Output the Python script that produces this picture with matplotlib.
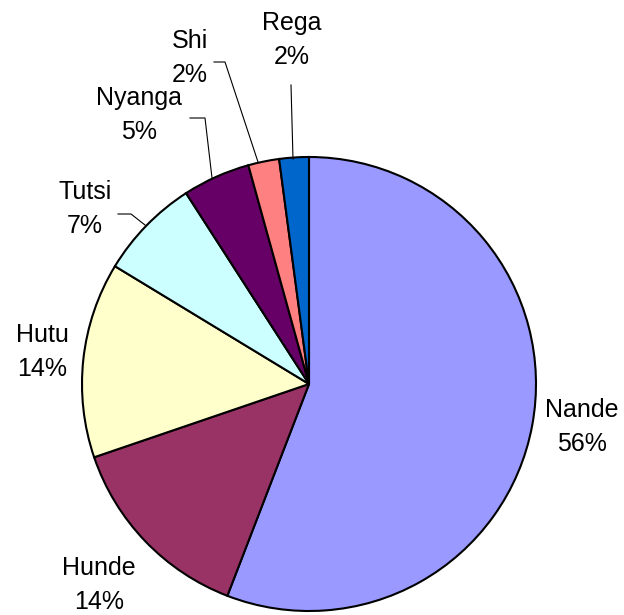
import matplotlib.pyplot as plt

plt.rcParams['font.family'] = ['Liberation Sans', 'DejaVu Sans']

# 数据
groups = ['Nande', 'Hunde', 'Hutu', 'Tutsi', 'Nyanga', 'Shi', 'Rega']
shares = [55.8, 13.9, 13.9, 7.2, 4.8, 2.2, 2.1]
pct_labels = ['56%', '14%', '14%', '7%', '5%', '2%', '2%']
colors = ['#9999FF', '#993366', '#FFFFCC', '#CCFFFF', '#660066', '#FF8080', '#0066CC']

W, H = 624, 615
fig = plt.figure(figsize=(W / 100, H / 100), dpi=100)
ax = fig.add_axes([0, 0, 1, 1])

cx, cy, r = 309, H - 384, 227
ax.pie(shares, colors=colors, startangle=90, counterclock=False,
       center=(cx, cy), radius=r, frame=True,
       wedgeprops=dict(edgecolor='black', linewidth=1.5))
ax.set_xlim(0, W)
ax.set_ylim(0, H)
ax.set_aspect('equal')
ax.axis('off')

# 标签位置（像素，y 向下）
label_pos = {
    'Nande': (582, 427),
    'Hunde': (99, 585),
    'Hutu': (42, 352),
    'Tutsi': (85, 209),
    'Nyanga': (139, 115),
    'Shi': (190, 58),
    'Rega': (292, 40),
}
for g, p in zip(groups, pct_labels):
    x, y = label_pos[g]
    ax.text(x, H - y, f'{g}\n{p}', ha='center', va='center',
            fontsize=18, linespacing=1.55)

# 引线
leaders = [
    [(293, 159), (291, 85)],
    [(258, 162), (225, 62), (214, 62)],
    [(212, 178), (205, 118), (190, 118)],
    [(145, 225), (131, 214), (118, 214)],
]
for pts in leaders:
    xs = [p[0] for p in pts]
    ys = [H - p[1] for p in pts]
    ax.plot(xs, ys, color='black', linewidth=0.8)

fig.savefig('out.png', dpi=100)
